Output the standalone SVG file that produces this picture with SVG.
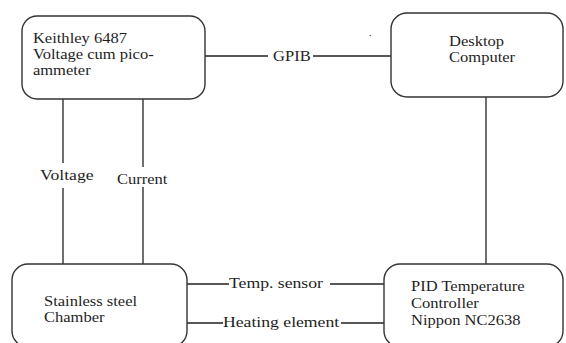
<svg xmlns="http://www.w3.org/2000/svg" width="566" height="343" viewBox="0 0 566 343">
<style>
.box{fill:#fff;stroke:#333;stroke-width:1.4}
.ln{stroke:#222;stroke-width:1.3;fill:none}
text{font-family:'Liberation Serif','DejaVu Serif',serif;font-size:14.5px;fill:#1e1e1e}
.big{font-size:15.5px}
</style>
<rect width="566" height="343" fill="#fff"/>
<g id="connectors">
<path class="ln" d="M205 56H268M313 56H391"/>
<path class="ln" d="M63 99V163M63 188V264"/>
<path class="ln" d="M143 99V167M143 187V264"/>
<path class="ln" d="M486 97V264"/>
<path class="ln" d="M187 284H229M330 284H384"/>
<path class="ln" d="M187 323H223M341 323H384"/>
<g transform="scale(1.14,1)">
<text x="239.5" y="61">GPIB</text>
<text class="big" x="35.1" y="180">Voltage</text>
<text x="102.6" y="184">Current</text>
<text class="big" x="200.9" y="288">Temp. sensor</text>
<text class="big" x="195.6" y="327">Heating element</text>
</g>
</g>
<g id="keithley">
<rect class="box" x="22" y="16" width="183" height="83" rx="15"/>
<g transform="scale(1.14,1)">
<text x="28.9" y="43">Keithley 6487</text>
<text x="28.9" y="59">Voltage cum pico-</text>
<text x="28.9" y="75">ammeter</text>
</g>
</g>
<g id="desktop">
<rect class="box" x="391" y="13" width="172" height="84" rx="16"/>
<g transform="scale(1.14,1)">
<text x="393.9" y="46">Desktop</text>
<text x="393.9" y="62">Computer</text>
</g>
</g>
<g id="chamber">
<rect class="box" x="12" y="264" width="175" height="83" rx="16"/>
<g transform="scale(1.14,1)">
<text x="38.6" y="306">Stainless steel</text>
<text x="38.6" y="322">Chamber</text>
</g>
</g>
<g id="pid">
<rect class="box" x="384" y="264" width="179" height="83" rx="16"/>
<g transform="scale(1.14,1)">
<text x="360.5" y="291">PID Temperature</text>
<text x="360.5" y="308">Controller</text>
<text x="360.5" y="325">Nippon NC2638</text>
</g>
</g>
<text x="369" y="36" style="font-size:10px">.</text>
</svg>
